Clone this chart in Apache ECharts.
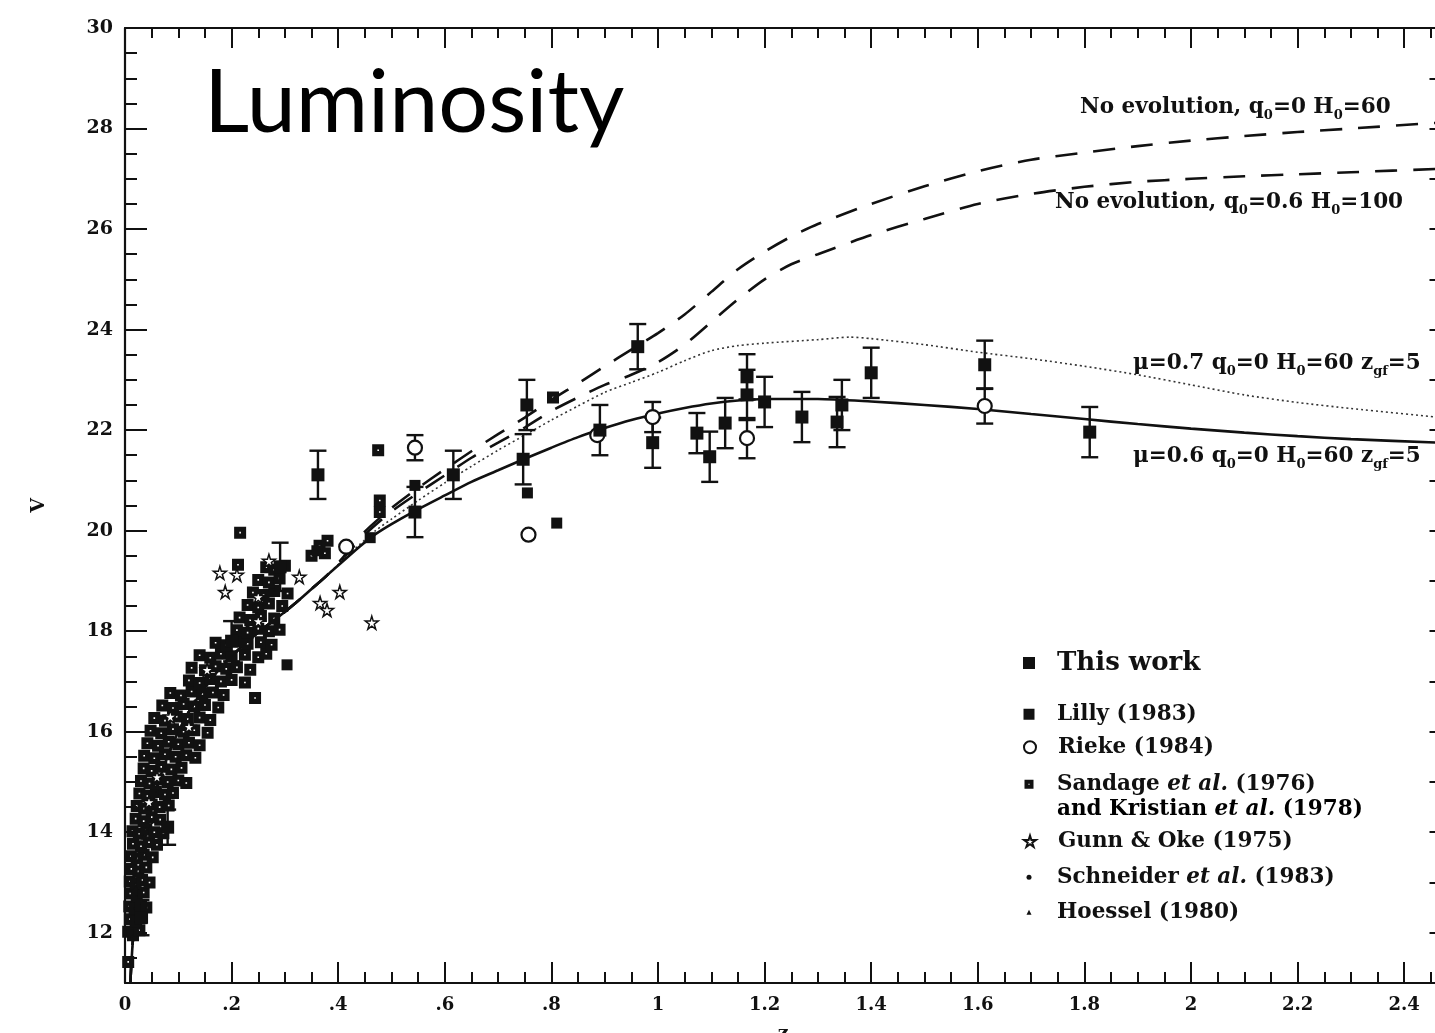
<!DOCTYPE html>
<html>
<head>
<meta charset="utf-8">
<title>Luminosity – V vs z</title>
<script src="https://cdn.jsdelivr.net/npm/echarts@6/dist/echarts.min.js"></script>
<style>
  html, body { margin: 0; padding: 0; background: #fff; }
  #chart { width: 1435px; height: 1033px; }
</style>
</head>
<body>
<div id="chart"></div>
<script>
// ---- axis ticks -------------------------------------------------------
const X_TICKS = [0, 0.2, 0.4, 0.6, 0.8, 1, 1.2, 1.4, 1.6, 1.8, 2, 2.2, 2.4];
const X_TICK_LABELS = ['0', '.2', '.4', '.6', '.8', '1', '1.2', '1.4', '1.6', '1.8', '2', '2.2', '2.4'];
const Y_TICKS = [12, 14, 16, 18, 20, 22, 24, 26, 28, 30];
const X_RANGE = [0, 2.47];
const Y_RANGE = [11, 30];

// ---- model curves [z, V] ----------------------------------------------
// low-redshift part shared by all four models
const curveLowZ = [[0.01,11.0],[0.012,11.4],[0.015,11.88],[0.02,12.5],[0.025,12.98],[0.03,13.38],[0.04,14.0],
  [0.05,14.48],[0.06,14.88],[0.07,15.22],[0.085,15.64],[0.1,16.0],[0.12,16.4],[0.14,16.73],[0.16,17.02],
  [0.18,17.28],[0.2,17.5],[0.23,17.8],[0.26,18.06],[0.29,18.3],[0.32,18.56],[0.35,18.84],[0.38,19.12]];
const curveMu06 = [[0.41,19.4],[0.44,19.68],[0.47,19.93],[0.5,20.13],[0.54,20.37],[0.6,20.7],[0.65,20.97],
  [0.7,21.2],[0.75,21.43],[0.8,21.65],[0.85,21.86],[0.9,22.04],[0.95,22.2],[1.0,22.33],[1.05,22.44],[1.1,22.53],
  [1.15,22.59],[1.2,22.62],[1.3,22.62],[1.4,22.57],[1.5,22.5],[1.6,22.42],[1.7,22.32],[1.8,22.22],[1.9,22.12],
  [2.0,22.03],[2.1,21.95],[2.2,21.88],[2.3,21.82],[2.47,21.75]];
const curveMu07 = [[0.41,19.43],[0.44,19.72],[0.47,20.0],[0.5,20.23],[0.55,20.6],[0.6,20.95],[0.65,21.28],
  [0.7,21.6],[0.75,21.9],[0.8,22.2],[0.85,22.48],[0.9,22.75],[0.95,22.95],[1.0,23.15],[1.05,23.38],[1.1,23.58],
  [1.15,23.68],[1.2,23.73],[1.3,23.8],[1.36,23.85],[1.4,23.82],[1.5,23.7],[1.6,23.55],[1.7,23.42],[1.8,23.27],
  [1.9,23.1],[2.0,22.9],[2.1,22.7],[2.2,22.55],[2.3,22.43],[2.47,22.25]];
const curveNoEvoQ0 = [[0.41,19.48],[0.45,19.98],[0.5,20.45],[0.55,20.85],[0.6,21.22],[0.65,21.58],[0.7,21.92],
  [0.75,22.25],[0.8,22.6],[0.85,22.93],[0.9,23.27],[0.95,23.6],[1.0,23.93],[1.05,24.3],[1.1,24.75],[1.15,25.2],
  [1.2,25.55],[1.25,25.85],[1.3,26.1],[1.4,26.5],[1.5,26.85],[1.6,27.15],[1.7,27.38],[1.8,27.52],[1.9,27.65],
  [2.0,27.76],[2.1,27.85],[2.2,27.93],[2.3,28.0],[2.47,28.12]];
const curveNoEvoQ06 = [[0.41,19.46],[0.45,19.92],[0.5,20.38],[0.55,20.75],[0.6,21.1],[0.65,21.45],[0.7,21.75],
  [0.75,22.05],[0.8,22.38],[0.85,22.65],[0.9,22.9],[0.95,23.1],[1.0,23.35],[1.05,23.7],[1.1,24.15],[1.15,24.6],
  [1.2,25.0],[1.25,25.3],[1.3,25.5],[1.4,25.88],[1.5,26.2],[1.6,26.5],[1.7,26.7],[1.8,26.84],[1.9,26.94],
  [2.0,27.0],[2.1,27.05],[2.2,27.09],[2.3,27.13],[2.47,27.2]];

// ---- observations -----------------------------------------------------
// [z, V, error]  (error 0 = no bar)
const thisWork = [[0.03,12.3,0.35],[0.08,14.1,0.35],[0.2,17.8,0.4],[0.291,19.28,0.48],[0.362,21.11,0.48],
  [0.544,20.37,0.5],[0.616,21.11,0.48],[0.747,21.42,0.5],[0.754,22.5,0.5],[0.891,22.0,0.5],[0.962,23.66,0.45],
  [0.99,21.75,0.5],[1.073,21.94,0.4],[1.097,21.47,0.5],[1.126,22.14,0.5],[1.167,23.06,0.45],[1.167,22.7,0.5],
  [1.2,22.56,0.5],[1.27,22.26,0.5],[1.336,22.16,0.5],[1.345,22.5,0.5],[1.4,23.14,0.5],[1.613,23.3,0.48],
  [1.81,21.96,0.5]];
const lilly = [[0.304,17.33],[0.544,20.9],[0.755,20.75],[0.81,20.15],[0.36,19.6],[0.46,19.86]];
const rieke = [[0.544,21.65,0.25],[0.757,19.92,0],[0.886,21.9,0],[0.99,22.26,0.3],[1.167,21.84,0.4],
  [1.613,22.48,0.35],[0.415,19.68,0]];
// [z, V]
const sandage = [[0.006,11.42],
  [0.006,12.02],[0.015,11.95],[0.027,12.05],
  [0.009,12.27],[0.02,12.22],[0.032,12.3],
  [0.008,12.52],[0.018,12.48],[0.03,12.55],[0.04,12.5],
  [0.01,12.78],[0.022,12.73],[0.035,12.8],
  [0.009,13.02],[0.02,12.98],[0.032,13.05],[0.046,13.0],
  [0.012,13.27],[0.025,13.22],[0.04,13.3],
  [0.011,13.52],[0.022,13.48],[0.035,13.55],[0.052,13.5],
  [0.015,13.77],[0.03,13.72],[0.045,13.8],[0.06,13.75],
  [0.014,14.02],[0.026,13.97],[0.04,14.05],[0.055,14.0],[0.072,13.98],
  [0.02,14.27],[0.035,14.22],[0.05,14.3],[0.066,14.25],
  [0.022,14.52],[0.036,14.47],[0.05,14.55],[0.065,14.5],[0.082,14.53],
  [0.027,14.77],[0.042,14.72],[0.058,14.8],[0.075,14.75],[0.09,14.78],
  [0.03,15.02],[0.046,14.97],[0.062,15.05],[0.08,15.0],[0.1,15.03],[0.115,14.98],
  [0.035,15.27],[0.05,15.22],[0.068,15.3],[0.087,15.25],[0.106,15.28],
  [0.036,15.52],[0.055,15.47],[0.075,15.55],[0.095,15.5],[0.115,15.53],[0.132,15.48],
  [0.042,15.77],[0.062,15.72],[0.082,15.8],[0.1,15.75],[0.12,15.78],[0.14,15.73],
  [0.048,16.02],[0.068,15.97],[0.09,16.05],[0.11,16.0],[0.13,16.03],[0.155,15.98],
  [0.055,16.27],[0.075,16.22],[0.097,16.3],[0.118,16.25],[0.14,16.28],[0.16,16.23],
  [0.07,16.52],[0.09,16.47],[0.11,16.55],[0.13,16.5],[0.15,16.53],[0.175,16.48],
  [0.085,16.77],[0.105,16.72],[0.125,16.8],[0.145,16.75],[0.165,16.78],[0.185,16.73],
  [0.12,17.02],[0.14,16.97],[0.16,17.05],[0.18,17.0],[0.2,17.03],[0.225,16.98],
  [0.125,17.27],[0.15,17.22],[0.17,17.3],[0.19,17.25],[0.21,17.28],[0.235,17.23],
  [0.14,17.52],[0.16,17.47],[0.18,17.55],[0.2,17.5],[0.225,17.53],[0.25,17.48],[0.265,17.55],
  [0.17,17.77],[0.19,17.72],[0.21,17.8],[0.23,17.75],[0.255,17.78],[0.275,17.73],
  [0.21,18.02],[0.23,17.97],[0.25,18.05],[0.27,18.0],[0.29,18.03],
  [0.215,18.27],[0.235,18.22],[0.255,18.3],[0.28,18.25],
  [0.23,18.52],[0.25,18.47],[0.27,18.55],[0.295,18.5],
  [0.24,18.77],[0.26,18.72],[0.28,18.8],[0.305,18.75],
  [0.25,19.02],[0.27,18.97],[0.29,19.05],
  [0.265,19.27],[0.28,19.22],[0.3,19.3],
  [0.35,19.5],[0.365,19.7],[0.38,19.8],[0.375,19.55],
  [0.212,19.32],[0.216,19.96],[0.244,16.67],[0.475,21.6],[0.478,20.6],[0.478,20.37],[0.803,22.65]];
const gunnOke = [[0.178,19.16],[0.21,19.12],[0.188,18.78],[0.327,19.08],[0.366,18.56],[0.403,18.78],
  [0.379,18.42],[0.463,18.17],[0.085,16.3],[0.154,17.23],[0.25,18.68],[0.27,19.4],[0.25,18.2],[0.06,15.1],
  [0.12,16.1],[0.045,14.6]];
const schneider = [[0.05,14.2],[0.07,15.0],[0.11,16.2],[0.16,17.1],[0.23,18.1]];
const hoessel = [[0.012,11.9],[0.02,12.9],[0.035,13.9],[0.06,14.9],[0.13,16.6]];

// ---- helpers ----------------------------------------------------------
const SERIF = '"DejaVu Serif", serif';
const INK = '#111';
const minorOf = (step, from, to, skip) => {
  const out = [];
  for (let v = from; v <= to + 1e-9; v += step) {
    const r = Math.round(v * 1000) / 1000;
    if (!skip.some(s => Math.abs(s - r) < 1e-6)) out.push(r);
  }
  return out;
};
const X_MINOR = minorOf(0.05, 0, 2.45, X_TICKS);
const Y_MINOR = minorOf(0.5, 11, 30, Y_TICKS);
const Y_RIGHT = minorOf(1, 11, 30, []);

const STAR = 'path://M50,0 L61,35 L98,35 L68,57 L79,91 L50,70 L21,91 L32,57 L2,35 L39,35 Z';
const HATCH_SQ = 'path://M0,0 L12,0 L12,12 L0,12 Z M5.2,5.2 L5.2,6.8 L6.8,6.8 L6.8,5.2 Z';

function renderErrorBar(params, api) {
  const z = api.value(0), v = api.value(1), e = api.value(2);
  const hi = api.coord([z, v + e]);
  const lo = api.coord([z, v - e]);
  const cap = 8.5;
  const style = { stroke: INK, lineWidth: 2.4 };
  return {
    type: 'group',
    children: [
      { type: 'line', shape: { x1: hi[0], y1: hi[1], x2: lo[0], y2: lo[1] }, style },
      { type: 'line', shape: { x1: hi[0] - cap, y1: hi[1], x2: hi[0] + cap, y2: hi[1] }, style },
      { type: 'line', shape: { x1: lo[0] - cap, y1: lo[1], x2: lo[0] + cap, y2: lo[1] }, style }
    ]
  };
}
const errorBars = thisWork.concat(rieke).filter(d => d[2] > 0);

const axisLine = { show: true, onZero: false, lineStyle: { color: INK, width: 2.2 } };
const tickStyle = { color: INK, width: 2 };
const baseX = { type: 'value', min: X_RANGE[0], max: X_RANGE[1], splitLine: { show: false } };
const baseY = { type: 'value', min: Y_RANGE[0], max: Y_RANGE[1], splitLine: { show: false } };

function curve(name, branch, lineType, width, color) {
  return {
    name, type: 'line', data: curveLowZ.concat(branch), showSymbol: false, smooth: 0.25,
    lineStyle: { type: lineType, width, color }, z: 2, silent: true
  };
}

// one legend block per data set, icon centred at x = 1029, text from x = 1057
const LEGEND_TEXT = {
  'This work': 'This work',
  'Lilly (1983)': 'Lilly (1983)',
  'Rieke (1984)': 'Rieke (1984)',
  'Sandage et al. (1976)': 'Sandage {it|et al.} (1976)',
  'Gunn & Oke (1975)': 'Gunn & Oke (1975)',
  'Schneider et al. (1983)': 'Schneider {it|et al.} (1983)',
  'Hoessel (1980)': 'Hoessel (1980)'
};
function legendBlock(name, centerY, size, iconW, iconH) {
  const left = 1029 - iconW / 2;
  const lh = size + 6;
  return {
    data: [name], left, top: centerY - lh / 2, padding: 0, selectedMode: false,
    itemWidth: iconW, itemHeight: iconH,
    formatter: n => '{sp|}{t|' + LEGEND_TEXT[n].replace(/\{it\|([^}]*)\}/g, '}{it|$1}{t|') + '}',
    textStyle: {
      rich: {
        sp: { width: 1057 - (left + iconW + 5) },
        t: { fontFamily: SERIF, fontWeight: 'bold', fontSize: size, color: INK, lineHeight: lh },
        it: { fontFamily: SERIF, fontWeight: 'bold', fontStyle: 'italic', fontSize: size, color: INK, lineHeight: lh }
      }
    }
  };
}

const subRich = (size) => ({
  t: { fontFamily: SERIF, fontWeight: 'bold', fontSize: size, color: INK, lineHeight: size + 8, verticalAlign: 'middle' },
  s: { fontFamily: SERIF, fontWeight: 'bold', fontSize: Math.round(size * 0.6), color: INK, lineHeight: Math.round(size * 0.6), verticalAlign: 'bottom' },
  it: { fontFamily: SERIF, fontWeight: 'bold', fontStyle: 'italic', fontSize: size, color: INK, lineHeight: size + 8 }
});
const LABEL_SIZE = 21.5;
function curveLabel(x, centerY, text) {
  return { type: 'text', left: x, top: centerY - (LABEL_SIZE + 8) / 2, silent: true, z: 10,
    style: { text, rich: subRich(LABEL_SIZE), fill: INK } };
}

const chart = echarts.init(document.getElementById('chart'), null, { renderer: 'canvas' });

chart.setOption({
  animation: false,
  backgroundColor: '#fff',
  title: {
    text: 'Luminosity', left: 204, top: 60, padding: 0,
    textStyle: { fontFamily: 'Lato, "Open Sans", sans-serif', fontWeight: 'normal', fontSize: 88, color: '#000' }
  },
  grid: {
    left: 125, top: 28, width: (X_RANGE[1] - X_RANGE[0]) * 533, height: 955,
    containLabel: false, outerBoundsMode: 'none'
  },
  xAxis: [
    Object.assign({}, baseX, {
      position: 'bottom', name: 'z', nameLocation: 'middle', nameGap: 42,
      nameTextStyle: { fontFamily: SERIF, fontWeight: 'bold', fontSize: 19, color: INK },
      axisLine,
      axisTick: { show: true, inside: true, length: 21, customValues: X_TICKS, lineStyle: tickStyle },
      axisLabel: { show: true, margin: 13, customValues: X_TICKS, fontFamily: SERIF, fontWeight: 'bold', fontSize: 18, color: INK,
        formatter: v => { const i = X_TICKS.findIndex(t => Math.abs(t - v) < 1e-6); return i < 0 ? '' : X_TICK_LABELS[i]; } }
    }),
    Object.assign({}, baseX, {
      position: 'bottom', axisLine: { show: false, onZero: false }, axisLabel: { show: false },
      axisTick: { show: true, inside: true, length: 11, customValues: X_MINOR, lineStyle: tickStyle }
    }),
    Object.assign({}, baseX, {
      position: 'top', axisLine, axisLabel: { show: false },
      axisTick: { show: true, inside: true, length: 20, customValues: X_TICKS, lineStyle: tickStyle }
    }),
    Object.assign({}, baseX, {
      position: 'top', axisLine: { show: false, onZero: false }, axisLabel: { show: false },
      axisTick: { show: true, inside: true, length: 10, customValues: X_MINOR, lineStyle: tickStyle }
    })
  ],
  yAxis: [
    Object.assign({}, baseY, {
      position: 'left', name: 'V', nameLocation: 'middle', nameGap: 76, nameRotate: 90,
      nameTextStyle: { fontFamily: SERIF, fontWeight: 'bold', fontSize: 19, color: INK },
      axisLine,
      axisTick: { show: true, inside: true, length: 22, customValues: Y_TICKS, lineStyle: tickStyle },
      axisLabel: { show: true, margin: 12, customValues: Y_TICKS, fontFamily: SERIF, fontWeight: 'bold', fontSize: 19, color: INK }
    }),
    Object.assign({}, baseY, {
      position: 'left', axisLine: { show: false, onZero: false }, axisLabel: { show: false },
      axisTick: { show: true, inside: true, length: 12, customValues: Y_MINOR, lineStyle: tickStyle }
    }),
    Object.assign({}, baseY, {
      position: 'right', axisLine, axisLabel: { show: false },
      axisTick: { show: true, inside: true, length: 12, customValues: Y_RIGHT, lineStyle: tickStyle }
    })
  ],
  legend: [
    legendBlock('This work', 666, 26, 12, 12),
    legendBlock('Lilly (1983)', 717, 21.5, 11, 11),
    legendBlock('Rieke (1984)', 750, 21.5, 12, 12),
    legendBlock('Sandage et al. (1976)', 787, 21.5, 9, 9),
    legendBlock('Gunn & Oke (1975)', 844, 21.5, 12, 12),
    legendBlock('Schneider et al. (1983)', 880, 21.5, 5, 5),
    legendBlock('Hoessel (1980)', 915, 21.5, 5, 5)
  ],
  graphic: [
    curveLabel(1080, 111, '{t|No evolution, q}{s|0}{t|=0 H}{s|0}{t|=60}'),
    curveLabel(1055, 206, '{t|No evolution, q}{s|0}{t|=0.6 H}{s|0}{t|=100}'),
    curveLabel(1133, 367, '{t|μ=0.7 q}{s|0}{t|=0 H}{s|0}{t|=60 z}{s|gf}{t|=5}'),
    curveLabel(1133, 460, '{t|μ=0.6 q}{s|0}{t|=0 H}{s|0}{t|=60 z}{s|gf}{t|=5}'),
    { type: 'text', left: 1057, top: 813 - 27.5 / 2 - 1, silent: true,
      style: { text: '{t|and Kristian }{it|et al.}{t| (1978)}', rich: subRich(21.5) } }
  ],
  series: [
    curve('noEvoQ0', curveNoEvoQ0, [22, 16], 2.6, INK),
    curve('noEvoQ06', curveNoEvoQ06, [22, 16], 2.6, INK),
    curve('mu07', curveMu07, [2, 3], 1.6, '#333'),
    curve('mu06', curveMu06, 'solid', 2.6, INK),
    {
      name: 'errors', type: 'custom', renderItem: renderErrorBar, data: errorBars,
      encode: { x: 0, y: 1 }, z: 3, silent: true, clip: true
    },
    { name: 'Sandage et al. (1976)', type: 'scatter', data: sandage, symbol: HATCH_SQ, symbolSize: 12,
      itemStyle: { color: INK, opacity: 1 }, z: 4, silent: true },
    { name: 'Gunn & Oke (1975)', type: 'scatter', data: gunnOke, symbol: STAR, symbolSize: 13,
      itemStyle: { color: '#fff', borderColor: INK, borderWidth: 1.5, opacity: 1 }, z: 5, silent: true },
    { name: 'Schneider et al. (1983)', type: 'scatter', data: schneider, symbol: 'circle', symbolSize: 4,
      itemStyle: { color: INK, opacity: 1 }, z: 5, silent: true },
    { name: 'Hoessel (1980)', type: 'scatter', data: hoessel, symbol: 'triangle', symbolSize: 5,
      itemStyle: { color: INK, opacity: 1 }, z: 5, silent: true },
    { name: 'Lilly (1983)', type: 'scatter', data: lilly, symbol: 'rect', symbolSize: 11,
      itemStyle: { color: INK, opacity: 1 }, z: 6, silent: true },
    { name: 'Rieke (1984)', type: 'scatter', data: rieke.map(d => [d[0], d[1]]), symbol: 'circle', symbolSize: 14,
      itemStyle: { color: '#fff', borderColor: INK, borderWidth: 2.2, opacity: 1 }, z: 6, silent: true },
    { name: 'This work', type: 'scatter', data: thisWork.map(d => [d[0], d[1]]), symbol: 'rect', symbolSize: 13,
      itemStyle: { color: INK, opacity: 1 }, z: 7, silent: true }
  ]
});
</script>
</body>
</html>
